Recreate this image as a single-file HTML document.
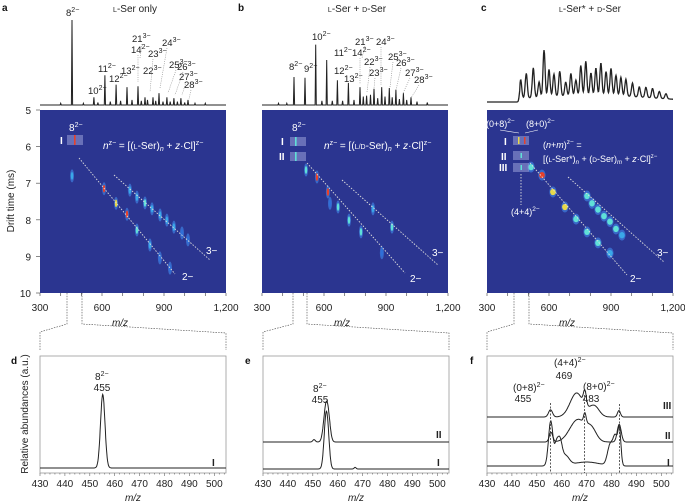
<!DOCTYPE html>
<html><head><meta charset="utf-8">
<style>
html,body{margin:0;padding:0;background:#fff;}
svg{display:block;font-family:"Liberation Sans",sans-serif;}
.t{font-size:10px;fill:#222;}
.s{font-size:9px;fill:#222;}
.w{font-size:10px;fill:#fff;}
.pl{font-size:10px;font-weight:bold;fill:#111;}
</style></head>
<body>
<svg id="fig" width="685" height="504" viewBox="0 0 685 504">
 <g id="static">
  <text class="pl" x="2" y="11">a</text>
  <text class="pl" x="238" y="11">b</text>
  <text class="pl" x="481" y="11">c</text>
  <text class="t" x="135" y="12" text-anchor="middle"><tspan font-size="7">L</tspan>-Ser only</text>
  <text class="t" x="357" y="12" text-anchor="middle"><tspan font-size="7">L</tspan>-Ser + <tspan font-size="7">D</tspan>-Ser</text>
  <text class="t" x="590" y="12" text-anchor="middle"><tspan font-size="7">L</tspan>-Ser* + <tspan font-size="7">D</tspan>-Ser</text>
  <text class="t" x="14" y="201" text-anchor="middle" transform="rotate(-90 14 201)">Drift time (ms)</text>
  <text class="t" x="28" y="414" text-anchor="middle" transform="rotate(-90 28 414)">Relative abundances (a.u.)</text>
  <text class="pl" x="11" y="364">d</text>
  <text class="pl" x="245" y="364">e</text>
  <text class="pl" x="470" y="364">f</text>
 </g>
 <g id="marks"></g>
</svg>
<script>
// ---------- data ----------
const specA_mz = [400, 455, 510, 561, 580, 614, 640, 668, 690, 721, 745, 774, 790, 808, 820, 847, 860, 876, 895, 914, 930, 948, 965, 982, 1000, 1016, 1050, 1100];
const specA_int = [2, 100, 2, 9, 3, 35, 4, 24, 5, 21, 6, 22, 5, 9, 6, 9, 5, 14, 4, 9, 4, 8, 4, 8, 3, 6, 2, 2];
const specB_mz = [380, 420, 455, 508, 560, 590, 613, 640, 665, 690, 718, 745, 774, 790, 806, 825, 842, 860, 879, 895, 916, 930, 948, 965, 984, 1000, 1021, 1050, 1100];
const specB_int = [2, 2, 33, 32, 71, 5, 53, 5, 29, 5, 26, 6, 21, 10, 11, 12, 19, 8, 21, 10, 20, 9, 18, 7, 14, 6, 9, 4, 3];
const specC_mz = [463, 490, 524, 552, 576, 600, 624, 652, 681, 706, 730, 754, 778, 803, 827, 851, 876, 900, 924, 948, 972, 1004, 1037, 1069, 1101, 1134, 1166];
const specC_int = [22, 29, 35, 18, 55, 32, 26, 29, 16, 26, 18, 35, 40, 26, 32, 38, 28, 32, 24, 22, 20, 16, 12, 12, 11, 8, 6];

const spotA_mz = [455, 610, 668, 721, 769, 832, 880, 929, 735, 769, 808, 842, 881, 914, 948, 987, 1016];
const spotA_dt = [6.8, 7.15, 7.55, 7.85, 8.28, 8.69, 9.04, 9.32, 7.19, 7.38, 7.54, 7.70, 7.87, 8.01, 8.20, 8.36, 8.55];
const spotA_int = [0.3, 1.0, 0.7, 1.0, 0.5, 0.35, 0.25, 0.2, 0.35, 0.4, 0.5, 0.35, 0.3, 0.3, 0.3, 0.25, 0.25];
const spotB_mz = [513, 566, 619, 668, 721, 779, 837, 929, 880, 629];
const spotB_dt = [6.64, 6.83, 7.24, 7.65, 8.01, 8.33, 7.70, 8.20, 8.9, 7.55];
const spotB_int = [0.45, 1.0, 1.0, 0.6, 0.45, 0.45, 0.4, 0.45, 0.2, 0.2];
const spotC_mz = [513, 566, 619, 677, 731, 784, 837, 895, 784, 808, 837, 866, 895, 924, 953];
const spotC_dt = [6.56, 6.78, 7.24, 7.65, 7.98, 8.33, 8.63, 8.91, 7.35, 7.55, 7.72, 7.90, 8.05, 8.25, 8.42];
const spotC_int = [0.5, 1.0, 0.8, 0.7, 0.55, 0.5, 0.45, 0.35, 0.55, 0.55, 0.5, 0.5, 0.45, 0.45, 0.4];

const d_I_c = [455.2], d_I_h = [92], d_I_w = [0.9];
const e_II_c = [455.2, 456.3, 450.5], e_II_h = [40, 22, 3], e_II_w = [0.9, 0.8, 0.5];
const e_I_c = [455.3, 456.2, 467], e_I_h = [62, 20, 2], e_I_w = [0.8, 0.7, 0.4];
const f_I_c = [455.6, 457.8, 459.2, 461.5, 470, 479.5, 481.6, 483.2];
const f_I_h = [56, 20, 30, 12, 5, 26, 34, 42];
const f_I_w = [0.9, 0.7, 0.9, 1.5, 5, 1.1, 0.9, 0.6];
const f_II_c = [455.7, 466.5, 469.3, 472, 483.1];
const f_II_h = [12, 28, 12, 14, 22];
const f_II_w = [0.7, 3.2, 0.5, 2.0, 0.8];
const f_III_c = [455.5, 466, 469.3, 473, 483];
const f_III_h = [9, 30, 18, 14, 8];
const f_III_w = [0.8, 2.6, 0.6, 2.0, 0.6];

const mzTicks = [300, 600, 900, 1200];
const mzTickLabels = ['300', '600', '900', '1,200'];
const dtTicks = [5, 6, 7, 8, 9, 10];
const zTicks = [430, 440, 450, 460, 470, 480, 490, 500];

// ---------- layout & scales ----------
const NS = 'http://www.w3.org/2000/svg';
const root = document.getElementById('marks');
const PX = [40, 262, 487], PW = 186, HT = 110, HB = 293;
const SB = [105, 105, 102];
const BX = [40, 263, 487], BT = 356, BBm = 473;
function xMZ(p, mz) { return PX[p] + (mz - 300) / 900 * PW; }
function yDT(dt) { return HT + (dt - 5) / 5 * (HB - HT); }
function ySp(p, v) { return SB[p] - v * 0.85; }
function xZ(p, mz) { return BX[p] + (mz - 430) / 74.7 * PW; }
function yZ(base, v) { return base - v * 0.8; }
function mk(tag, attrs, parent) {
  const el = document.createElementNS(NS, tag);
  for (const k in attrs) el.setAttribute(k, attrs[k]);
  (parent || root).appendChild(el);
  return el;
}
function gsum(c, h, w, x) { let s = 0; for (let i = 0; i < c.length; i++) s += h[i] * Math.exp(-0.5 * Math.pow((x - c[i]) / w[i], 2)); return s; }
function colorFor(v) {
  if (v > 0.85) return '#e8402a';
  if (v > 0.6) return '#e8d84a';
  if (v > 0.4) return '#5fe0d8';
  if (v > 0.25) return '#3aa8e8';
  return '#2f6fd8';
}

function stickSpectrum(p, mzs, ints, name) {
  let d = 'M' + PX[p] + ' ' + SB[p];
  const order = mzs.map((m, i) => i).sort((a, b) => mzs[a] - mzs[b]);
  order.forEach(i => {
    const x = xMZ(p, mzs[i]);
    d += ' L' + (x - 0.6).toFixed(1) + ' ' + SB[p] + ' L' + x.toFixed(1) + ' ' + ySp(p, ints[i]).toFixed(1) + ' L' + (x + 0.6).toFixed(1) + ' ' + SB[p];
  });
  d += ' L' + (PX[p] + PW) + ' ' + SB[p];
  const el = mk('path', { d: d, fill: 'none', stroke: '#222', 'stroke-width': 1 });
  
  
}
stickSpectrum(0, specA_mz, specA_int, 'spectrum-a');
stickSpectrum(1, specB_mz, specB_int, 'spectrum-b');
(function () {
  let d = '';
  for (let mz = 300; mz <= 1200; mz += 2) {
    let v = gsum(specC_mz, specC_int, specC_mz.map(() => 5), mz);
    if (mz > 458) v += 8 * Math.exp(-0.5 * Math.pow((mz - 800) / 300, 2));
    d += (d ? ' L' : 'M') + xMZ(2, mz).toFixed(1) + ' ' + ySp(2, v).toFixed(1);
  }
  const el = mk('path', { d: d, fill: 'none', stroke: '#222', 'stroke-width': 1.3 });
  
  
})();

const spots = [[spotA_mz, spotA_dt, spotA_int], [spotB_mz, spotB_dt, spotB_int], [spotC_mz, spotC_dt, spotC_int]];
for (let p = 0; p < 3; p++) {
  const bg = mk('rect', { x: PX[p], y: HT, width: PW, height: HB - HT, fill: '#2b3590' });
  
  
  const [m, t, v] = spots[p];
  for (let i = 0; i < m.length; i++) {
    const cx = xMZ(p, m[i]), cy = yDT(t[i]);
    const rx = p === 2 ? 2.8 : 1.2, ry = p === 2 ? 4.5 : 5.5;
    const halo = mk('ellipse', { cx: cx, cy: cy, rx: rx + 0.8, ry: ry + 1, fill: '#3f7fe0', opacity: 0.7 });
    
    
    const s = mk('ellipse', { cx: cx, cy: cy, rx: rx, ry: ry * 0.7, fill: colorFor(v[i]) });
    
    
  }
  for (let mz = 300; mz <= 1200; mz += 100) {
    const tk = mk('line', { x1: xMZ(p, mz), x2: xMZ(p, mz), y1: HB, y2: HB + 3, stroke: '#555', 'stroke-width': 0.7 });
    
    
  }
  mzTicks.forEach((mz, i) => {
    const tl = mk('text', { x: xMZ(p, mz), y: 311, 'text-anchor': 'middle', class: 't' });
    tl.textContent = mzTickLabels[i];
    
    
  });
  const xt = mk('text', { x: PX[p] + 80, y: 326, 'text-anchor': 'middle', class: 't', 'font-style': 'italic' });
  xt.textContent = 'm/z';
  
  
}
dtTicks.forEach(dt => {
  const tk = mk('line', { x1: 36, x2: 40, y1: yDT(dt), y2: yDT(dt), stroke: '#555', 'stroke-width': 0.7 });
  
  
  const tl = mk('text', { x: 31, y: yDT(dt) + 4, 'text-anchor': 'end', class: 't' });
  tl.textContent = String(dt);
  
  
});

function trace(p, base, c, h, w, name) {
  let d = '';
  for (let mz = 430; mz <= 504.7; mz += 0.15) {
    d += (d ? ' L' : 'M') + xZ(p, mz).toFixed(1) + ' ' + yZ(base, gsum(c, h, w, mz)).toFixed(1);
  }
  const el = mk('path', { d: d, fill: 'none', stroke: '#222', 'stroke-width': 1 });
  
  
}
for (let p = 0; p < 3; p++) {
  const box = mk('rect', { x: BX[p], y: BT, width: PW, height: BBm - BT, fill: 'none', stroke: '#999', 'stroke-width': 0.8 });
  
  
  for (let mz = 430; mz <= 504; mz += 2) {
    const tk = mk('line', { x1: xZ(p, mz), x2: xZ(p, mz), y1: BBm, y2: BBm + (mz % 10 === 0 ? 3 : 1.5), stroke: '#666', 'stroke-width': 0.6 });
    
    
  }
  zTicks.forEach(mz => {
    const tl = mk('text', { x: xZ(p, mz), y: 487, 'text-anchor': 'middle', class: 't' });
    tl.textContent = String(mz);
    
    
  });
  const xt = mk('text', { x: BX[p] + 93, y: 501, 'text-anchor': 'middle', class: 't', 'font-style': 'italic' });
  xt.textContent = 'm/z';
  
  
}
trace(0, 468, d_I_c, d_I_h, d_I_w, 'trace-d-I');
trace(1, 442, e_II_c, e_II_h, e_II_w, 'trace-e-II');
trace(1, 469, e_I_c, e_I_h, e_I_w, 'trace-e-I');
trace(2, 466, f_I_c, f_I_h, f_I_w, 'trace-f-I');
trace(2, 442, f_II_c, f_II_h, f_II_w, 'trace-f-II');
trace(2, 417, f_III_c, f_III_h, f_III_w, 'trace-f-III');
[[455.5, 403], [469.2, 395], [483.2, 404]].forEach(a => {
  const ln = mk('line', { x1: xZ(2, a[0]), x2: xZ(2, a[0]), y1: a[1], y2: BBm, stroke: '#333', 'stroke-width': 0.8, 'stroke-dasharray': '2,1.5' });
  
  
});
</script>
<svg width="685" height="504" viewBox="0 0 685 504" style="position:absolute;left:0;top:0;font-family:'Liberation Sans',sans-serif">
 <g fill="none" stroke="#ddd" stroke-width="0.9" stroke-dasharray="1.5,1.5">
  <line x1="79" y1="158" x2="175" y2="274"/><line x1="114" y1="175" x2="210" y2="260"/>
  <line x1="307" y1="163" x2="405" y2="273"/><line x1="342" y1="180" x2="438" y2="265"/>
  <line x1="530" y1="163" x2="627" y2="275"/><line x1="568" y1="177" x2="664" y2="262"/>
  <line x1="521" y1="174" x2="521" y2="205"/>
 </g>
 <g font-size="10" fill="#fff">
  <text x="182" y="280">2−</text><text x="206" y="254">3−</text>
  <text x="410" y="282">2−</text><text x="432" y="256">3−</text>
  <text x="630" y="282">2−</text><text x="657" y="256">3−</text>
  <rect x="67" y="135" width="16" height="10" fill="#9aa0d8" opacity="0.55"/>
  <rect x="74" y="135" width="1.6" height="10" fill="#e8402a"/>
  <text x="60" y="144" font-weight="bold">I</text>
  <text x="69" y="131">8<tspan font-size="7" dy="-4">2−</tspan></text>
  <text x="103" y="149"><tspan font-style="italic">n</tspan><tspan font-size="7" dy="-4">z−</tspan><tspan dy="4"> = [(</tspan><tspan font-size="7">L</tspan>-Ser)<tspan font-size="7" dy="2" font-style="italic">n</tspan><tspan dy="-2"> + </tspan><tspan font-style="italic">z</tspan>·Cl]<tspan font-size="7" dy="-4">z−</tspan></text>
  <rect x="290" y="137" width="16" height="9" fill="#9aa0d8" opacity="0.55"/>
  <rect x="290" y="152" width="16" height="9" fill="#9aa0d8" opacity="0.55"/>
  <rect x="295" y="137" width="1.6" height="9" fill="#5fe0d8"/>
  <rect x="295" y="152" width="1.6" height="9" fill="#5fe0d8"/>
  <text x="281" y="145" font-weight="bold">I</text><text x="279" y="160" font-weight="bold">II</text>
  <text x="292" y="131">8<tspan font-size="7" dy="-4">2−</tspan></text>
  <text x="324" y="149"><tspan font-style="italic">n</tspan><tspan font-size="7" dy="-4">z−</tspan><tspan dy="4"> = [(</tspan><tspan font-size="7">L/D</tspan>-Ser)<tspan font-size="7" dy="2" font-style="italic">n</tspan><tspan dy="-2"> + </tspan><tspan font-style="italic">z</tspan>·Cl]<tspan font-size="7" dy="-4">z−</tspan></text>
  <rect x="513" y="136" width="16" height="9" fill="#9aa0d8" opacity="0.55"/>
  <rect x="513" y="151" width="16" height="9" fill="#9aa0d8" opacity="0.55"/>
  <rect x="513" y="163" width="16" height="9" fill="#9aa0d8" opacity="0.55"/>
  <rect x="518" y="137" width="1.5" height="7" fill="#e8d84a"/><rect x="524" y="137" width="1.5" height="7" fill="#e8402a"/>
  <rect x="520.5" y="153" width="1.5" height="5" fill="#5fe0d8"/><rect x="520.5" y="165" width="1.5" height="5" fill="#5fe0d8"/>
  <text x="504" y="145" font-weight="bold">I</text><text x="501" y="160" font-weight="bold">II</text><text x="499" y="171" font-weight="bold">III</text>
  <text x="486" y="127" font-size="9">(0+8)<tspan font-size="6.5" dy="-4">2−</tspan></text>
  <text x="526" y="127" font-size="9">(8+0)<tspan font-size="6.5" dy="-4">2−</tspan></text>
  <path d="M500 130 L519 133 M538 130 L525 133" stroke="#fff" stroke-width="0.6" fill="none"/>
  <text x="511" y="215" font-size="9">(4+4)<tspan font-size="6.5" dy="-4">2−</tspan></text>
  <text x="543" y="148" font-size="9">(<tspan font-style="italic">n</tspan>+<tspan font-style="italic">m</tspan>)<tspan font-size="6.5" dy="-4">z−</tspan><tspan dy="4"> =</tspan></text>
  <text x="543" y="162" font-size="9">[(<tspan font-size="6.5">L</tspan>-Ser*)<tspan font-size="6" dy="2" font-style="italic">n</tspan><tspan dy="-2"> + (</tspan><tspan font-size="6.5">D</tspan>-Ser)<tspan font-size="6" dy="2" font-style="italic">m</tspan><tspan dy="-2"> + </tspan><tspan font-style="italic">z</tspan>·Cl]<tspan font-size="6" dy="-4">z−</tspan></text>
 </g>
 <g font-size="9.5" fill="#222">
  <text x="66" y="16">8<tspan font-size="7" dy="-4">2−</tspan></text>
  <text x="88" y="94">10<tspan font-size="7" dy="-4">2−</tspan></text>
  <text x="98" y="72">11<tspan font-size="7" dy="-4">2−</tspan></text>
  <text x="109" y="82">12<tspan font-size="7" dy="-4">2−</tspan></text>
  <text x="121" y="74">13<tspan font-size="7" dy="-4">2−</tspan></text>
  <text x="131" y="53">14<tspan font-size="7" dy="-4">2−</tspan></text>
  <text x="132" y="42">21<tspan font-size="7" dy="-4">3−</tspan></text>
  <text x="143" y="74">22<tspan font-size="7" dy="-4">3−</tspan></text>
  <text x="148" y="57">23<tspan font-size="7" dy="-4">3−</tspan></text>
  <text x="162" y="46">24<tspan font-size="7" dy="-4">3−</tspan></text>
  <text x="169" y="68">25<tspan font-size="7" dy="-4">3−</tspan></text>
  <text x="177" y="70">26<tspan font-size="7" dy="-4">3−</tspan></text>
  <text x="179" y="80">27<tspan font-size="7" dy="-4">3−</tspan></text>
  <text x="184" y="88">28<tspan font-size="7" dy="-4">3−</tspan></text>
 </g>
 <g font-size="9.5" fill="#222">
  <text x="289" y="70">8<tspan font-size="7" dy="-4">2−</tspan></text>
  <text x="304" y="72">9<tspan font-size="7" dy="-4">2−</tspan></text>
  <text x="312" y="40">10<tspan font-size="7" dy="-4">2−</tspan></text>
  <text x="334" y="56">11<tspan font-size="7" dy="-4">2−</tspan></text>
  <text x="334" y="74">12<tspan font-size="7" dy="-4">2−</tspan></text>
  <text x="344" y="82">13<tspan font-size="7" dy="-4">2−</tspan></text>
  <text x="355" y="45">21<tspan font-size="7" dy="-4">3−</tspan></text>
  <text x="352" y="56">14<tspan font-size="7" dy="-4">2−</tspan></text>
  <text x="364" y="65">22<tspan font-size="7" dy="-4">3−</tspan></text>
  <text x="369" y="76">23<tspan font-size="7" dy="-4">3−</tspan></text>
  <text x="376" y="45">24<tspan font-size="7" dy="-4">3−</tspan></text>
  <text x="388" y="60">25<tspan font-size="7" dy="-4">3−</tspan></text>
  <text x="396" y="66">26<tspan font-size="7" dy="-4">3−</tspan></text>
  <text x="405" y="76">27<tspan font-size="7" dy="-4">3−</tspan></text>
  <text x="414" y="83">28<tspan font-size="7" dy="-4">3−</tspan></text>
 </g>
 <g fill="none" stroke="#888" stroke-width="0.6" stroke-dasharray="1,1.2">
  <path d="M138 55 V82 M142 44 L140 58 M153 59 L150 92 M167 48 L160 88 M176 70 L168 93 M183 72 L175 95 M186 82 L182 95 M191 90 L189 99"/>
  <path d="M360 58 V84 M365 46 L362 58 M370 67 L367 92 M375 78 L374 88 M381 47 L381 85 M393 62 L390 87 M401 68 L396 90 M410 78 L403 93 M419 85 L411 98"/>
  <path stroke="#444" stroke-dasharray="1.5,1.2" d="M67 293 V324 L40 332 V350 M82 293 V324 L226 333 V350"/>
  <path stroke="#444" stroke-dasharray="1.5,1.2" d="M293 293 V324 L263 332 V350 M307 293 V324 L449 333 V350"/>
  <path stroke="#444" stroke-dasharray="1.5,1.2" d="M514 293 V324 L487 332 V350 M529 293 V324 L673 333 V350"/>
 </g>
 <g font-size="10" fill="#222">
  <text x="95" y="380">8<tspan font-size="7" dy="-4">2−</tspan></text><text x="102" y="391" text-anchor="middle">455</text>
  <text x="212" y="466" font-weight="bold">I</text>
  <text x="313" y="392">8<tspan font-size="7" dy="-4">2−</tspan></text><text x="320" y="403" text-anchor="middle">455</text>
  <text x="436" y="438" font-weight="bold">II</text><text x="437" y="466" font-weight="bold">I</text>
  <text x="554" y="366">(4+4)<tspan font-size="7" dy="-4">2−</tspan></text><text x="564" y="379" text-anchor="middle">469</text>
  <text x="513" y="391">(0+8)<tspan font-size="7" dy="-4">2−</tspan></text><text x="523" y="402" text-anchor="middle">455</text>
  <text x="583" y="390">(8+0)<tspan font-size="7" dy="-4">2−</tspan></text><text x="591" y="402" text-anchor="middle">483</text>
  <text x="663" y="409" font-weight="bold">III</text><text x="665" y="439" font-weight="bold">II</text><text x="667" y="466" font-weight="bold">I</text>
 </g>
</svg>
</body></html>
